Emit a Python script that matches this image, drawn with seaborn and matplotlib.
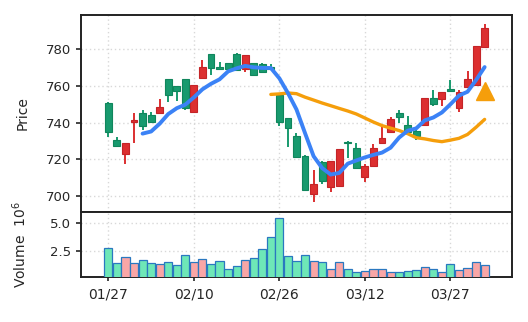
import numpy as np
import pandas as pd
import matplotlib
matplotlib.use("Agg")
import matplotlib.pyplot as plt
import seaborn as sns

# ---- data ----
opens = [750.5, 730.3, 722.7, 740.1, 745.4, 744.3, 745.0, 763.6, 760.1, 763.6,
         745.6, 764.5, 777.2, 770.5, 772.3, 777.2, 769.2, 772.3, 772.1, 770.3,
         755.0, 742.3, 732.5, 721.8, 700.9, 718.3, 705.1, 705.6, 729.4, 726.3,
         710.2, 716.3, 728.7, 734.7, 745.4, 738.5, 735.6, 738.7, 753.2, 752.9,
         758.3, 748.1, 759.6, 760.5, 781.3]
highs = [751.0, 732.1, 728.7, 745.2, 746.9, 745.6, 752.9, 763.6, 760.1, 763.6,
         760.3, 774.1, 777.2, 772.8, 772.7, 777.7, 777.0, 772.7, 772.5, 771.7,
         755.0, 742.3, 734.1, 722.3, 714.2, 719.3, 719.3, 725.4, 730.0, 728.7,
         717.4, 728.1, 737.4, 742.8, 746.9, 743.8, 736.9, 753.2, 757.7, 756.5,
         763.2, 757.6, 768.1, 781.9, 793.5]
lows = [732.3, 727.1, 717.6, 729.1, 736.1, 740.5, 745.0, 751.4, 751.8, 746.9,
        745.6, 763.8, 765.9, 769.0, 769.4, 768.3, 767.4, 765.6, 767.4, 768.7,
        738.3, 726.5, 721.1, 703.3, 696.5, 706.4, 702.4, 705.6, 720.5, 715.1,
        707.4, 716.3, 728.7, 734.7, 739.6, 735.0, 730.5, 738.3, 749.2, 749.2,
        757.4, 745.6, 759.6, 760.5, 780.8]
closes = [734.7, 727.1, 728.7, 741.2, 738.1, 740.5, 748.3, 755.0, 757.2, 747.8,
          760.3, 770.3, 769.9, 769.4, 769.4, 768.7, 777.0, 765.9, 767.8, 769.2,
          740.5, 736.9, 721.1, 703.3, 706.4, 708.2, 719.3, 725.4, 728.7, 715.1,
          716.5, 726.3, 731.4, 742.1, 742.8, 735.1, 732.7, 753.2, 749.9, 756.5,
          757.4, 756.5, 763.6, 781.9, 791.7]
volumes = [2.74, 1.41, 1.94, 1.41, 1.68, 1.41, 1.32, 1.50, 1.24, 2.12,
           1.50, 1.76, 1.32, 1.59, 0.88, 1.15, 1.68, 1.85, 2.65, 3.70,
           5.38, 2.03, 1.59, 2.12, 1.59, 1.50, 0.88, 1.50, 0.88, 0.62,
           0.70, 0.88, 0.88, 0.62, 0.62, 0.70, 0.79, 1.06, 0.88, 0.62,
           1.32, 0.79, 0.97, 1.50, 1.24]
tick_labels = ["01/27", "02/10", "02/26", "03/12", "03/27"]
tick_index = [0, 10, 20, 30, 40]
signal_index = [44]
signal_price = [757.0]

# ---- styling ----
sns.set_theme(style="ticks")
plt.rcParams["font.family"] = ["DejaVu Sans"]
plt.rcParams["font.size"] = 9

C_UP = "#dc2f30"
C_UP_EDGE = "#c42427"
C_DN = "#189a6e"
C_DN_EDGE = "#10865c"
V_UP = "#f9a6a6"
V_DN = "#6ee7b7"
V_EDGE = "#2a78c0"
MA5_C = "#3b82f6"
MA20_C = "#f59e0b"

df = pd.DataFrame({"open": opens, "high": highs, "low": lows,
                   "close": closes, "volume": volumes})
df["idx"] = np.arange(len(df))
df["dir"] = np.where(df["close"] >= df["open"], "up", "down")
df["ma5"] = df["close"].rolling(5).mean()
df["ma20"] = df["close"].rolling(20).mean()

fig = plt.figure(figsize=(5.28, 3.22), dpi=100)
ax = fig.add_axes([0.1534, 0.3425, 0.8163, 0.6109])
axv = fig.add_axes([0.1534, 0.1407, 0.8163, 0.2018], sharex=ax)

grid_kw = dict(color="#d8d8d8", linestyle=(0, (1, 2)), linewidth=1.0)

# candles
up = df["dir"] == "up"
colors = np.where(up, C_UP, C_DN)
edges = np.where(up, C_UP_EDGE, C_DN_EDGE)
ax.vlines(df["idx"], df["low"], df["high"], colors=colors, linewidth=1.4, zorder=2)
body_lo = np.minimum(df["open"], df["close"])
body_h = np.maximum(np.abs(df["close"] - df["open"]), 0.6)
ax.bar(df["idx"], body_h, bottom=body_lo, width=0.8, color=colors,
       edgecolor=edges, linewidth=0.8, zorder=3)

# moving averages
sns.lineplot(data=df, x="idx", y="ma20", ax=ax, color=MA20_C, linewidth=2.4,
             zorder=4, legend=False)
sns.lineplot(data=df, x="idx", y="ma5", ax=ax, color=MA5_C, linewidth=2.8,
             zorder=5, legend=False)
ax.plot(signal_index, signal_price, marker="^", linestyle="none",
        color=MA20_C, markersize=13.5, zorder=6)

ax.set_ylim(691.4, 798.6)
ax.set_xlim(-3.2, 47.2)
ax.set_yticks([700, 720, 740, 760, 780])
ax.set_ylabel("Price", fontsize=10)
ax.set_xlabel("")
ax.grid(True, **grid_kw)
ax.set_axisbelow(True)
ax.tick_params(axis="x", which="both", bottom=False, labelbottom=False)
ax.tick_params(axis="y", length=3.5, width=1.2, labelsize=9.5)

# volume
sns.barplot(data=df, x="idx", y="volume", hue="dir", native_scale=True,
            palette={"up": V_UP, "down": V_DN}, dodge=False, width=0.95,
            saturation=1, edgecolor=V_EDGE, linewidth=0.9, ax=axv,
            legend=False, zorder=3)
axv.set_ylim(0.23, 5.95)
axv.set_yticks([2.5, 5.0])
axv.set_yticklabels(["2.5", "5.0"])
axv.set_xlim(-3.2, 47.2)
axv.set_xticks(tick_index)
axv.set_xticklabels(tick_labels)
axv.set_xlabel("")
axv.set_ylabel("Volume  $10^{6}$", fontsize=10)
axv.grid(True, **grid_kw)
axv.set_axisbelow(True)
axv.tick_params(axis="y", length=3.5, width=1.2, labelsize=9.5)
axv.tick_params(axis="x", length=3, width=1.2, labelsize=10, pad=4.5)

for a in (ax, axv):
    for s in a.spines.values():
        s.set_visible(True)
        s.set_color("#222222")
        s.set_linewidth(1.4)

ax.yaxis.set_label_coords(-0.12, 0.5)
axv.yaxis.set_label_coords(-0.12, 0.5)

fig.savefig("out.png", dpi=100)
